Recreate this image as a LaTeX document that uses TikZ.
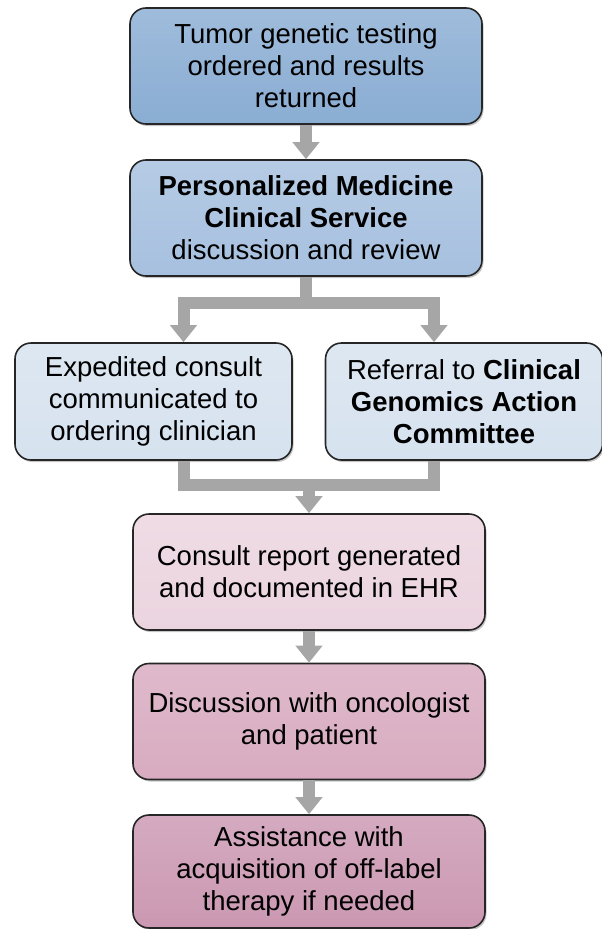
\documentclass[tikz,border=0pt]{standalone}
\usepackage{fontspec}
\setmainfont{Liberation Sans}
\usetikzlibrary{arrows.meta,shadows}

\definecolor{testblue}{HTML}{8AADD3}
\definecolor{pmcsblue}{HTML}{A6C0DF}
\definecolor{paleblue}{HTML}{D6E2EF}
\definecolor{palepink}{HTML}{EBD4DF}
\definecolor{midpink}{HTML}{D8ABC0}
\definecolor{deeppink}{HTML}{CB98B2}
\definecolor{arrowgray}{HTML}{A6A6A6}

\begin{document}
\begin{tikzpicture}[x=1pt,y=-1pt,
	box/.style={draw=black!85, line width=1.6pt, rounded corners=16pt, align=center,
		minimum width=352pt, minimum height=116pt, inner sep=0pt,
		font=\fontsize{27.5}{32}\selectfont,
		drop shadow={shadow xshift=1.5pt,shadow yshift=-2pt,opacity=.45}},
	side/.style={box, minimum width=277pt, minimum height=117pt},
	tint/.style={top color=#1!82!white, bottom color=#1},
	flow/.style={line width=12pt, draw=arrowgray, line join=miter, -{Triangle[width=26pt,length=17pt]}},
	bar/.style={line width=12pt, draw=arrowgray, line join=miter}]

	\useasboundingbox (0,0) rectangle (602,929);

	% review chain
	\node[box, tint=testblue] (test) at (306,66)
		{Tumor genetic testing\\ordered and results\\returned};
	\node[box, tint=pmcsblue] (pmcs) at (306,218)
		{\bfseries Personalized Medicine\\\bfseries Clinical Service\\discussion and review};

	% the two branches
	\node[side, tint=paleblue] (consult) at (153.5,401.5)
		{Expedited consult\\communicated to\\ordering clinician};
	\node[side, tint=paleblue] (cgac) at (464,401.5)
		{Referral to \textbf{Clinical}\\\bfseries Genomics Action\\\bfseries Committee};

	% follow-up
	\node[box, tint=palepink] (report) at (309,572)
		{Consult report generated\\and documented in EHR};
	\node[box, tint=midpink] (onco) at (309,721.5)
		{Discussion with oncologist\\and patient};
	\node[box, minimum height=113pt, tint=deeppink] (offlabel) at (309,871.5)
		{Assistance with\\acquisition of off-label\\therapy if needed};

	\coordinate (split) at (306,303);
	\coordinate (merge) at (309,485);

	\draw[flow] (test) -- (pmcs);
	\draw[bar] (pmcs.south) -- (split);
	\draw[flow] (split) -| ([xshift=30pt]consult.north);
	\draw[flow] (split) -| ([xshift=-30pt]cgac.north);

	\draw[bar] ([xshift=30pt]consult.south) |- (merge) -| ([xshift=-30pt]cgac.south);
	\draw[flow] (merge) -- (merge |- report.north);

	\draw[flow] (report) -- (onco);
	\draw[flow] (onco) -- (offlabel);
\end{tikzpicture}
\end{document}
